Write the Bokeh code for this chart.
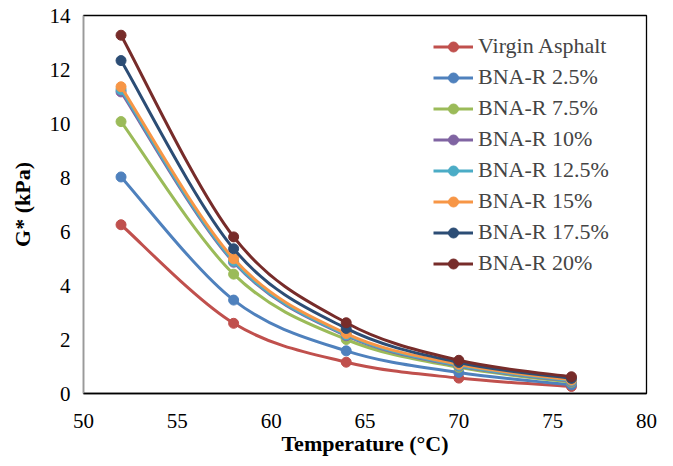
from bokeh.plotting import figure
from bokeh.models import Range1d, FixedTicker, Legend, LegendItem, ColumnDataSource
from bokeh.embed import file_html
from bokeh.resources import INLINE

temps = [52, 58, 64, 70, 76]
virgin = [6.25, 2.60, 1.16, 0.57, 0.26]
bna_2_5 = [8.02, 3.46, 1.58, 0.78, 0.32]
bna_7_5 = [10.07, 4.42, 2.00, 0.97, 0.42]
bna_10 = [11.17, 4.86, 2.14, 1.02, 0.45]
bna_12_5 = [11.25, 4.90, 2.17, 1.04, 0.47]
bna_15 = [11.36, 4.99, 2.22, 1.08, 0.50]
bna_17_5 = [12.33, 5.36, 2.41, 1.15, 0.56]
bna_20 = [13.27, 5.80, 2.62, 1.23, 0.62]

names = ["Virgin Asphalt", "BNA-R 2.5%", "BNA-R 7.5%", "BNA-R 10%",
         "BNA-R 12.5%", "BNA-R 15%", "BNA-R 17.5%", "BNA-R 20%"]
series = [virgin, bna_2_5, bna_7_5, bna_10, bna_12_5, bna_15, bna_17_5, bna_20]
colors = ["#C0504D", "#4F81BD", "#9BBB59", "#8064A2",
          "#4BACC6", "#F79646", "#2C4D75", "#772C2A"]

x_ticks = [50, 55, 60, 65, 70, 75, 80]
y_ticks = [0, 2, 4, 6, 8, 10, 12, 14]

FONT = "Liberation Serif"

p = figure(width=657, height=465, output_backend="svg", toolbar_location=None,
           x_range=Range1d(50, 80), y_range=Range1d(0, 14),
           min_border_left=83, min_border_right=11, min_border_top=15, min_border_bottom=72)
p.xgrid.visible = False
p.ygrid.visible = False
p.outline_line_color = "black"
p.outline_line_width = 1.3
p.background_fill_color = "white"
p.border_fill_color = "white"

p.xaxis.ticker = FixedTicker(ticks=x_ticks)
p.yaxis.ticker = FixedTicker(ticks=y_ticks)
for ax in (p.xaxis[0], p.yaxis[0]):
    ax.major_tick_line_color = None
    ax.minor_tick_line_color = None
    ax.major_tick_out = 0
    ax.major_tick_in = 0
    ax.minor_tick_out = 0
    ax.minor_tick_in = 0
    ax.major_label_text_font = FONT
    ax.major_label_text_font_size = "21px"
    ax.major_label_text_color = "black"
    ax.axis_label_text_font = FONT
    ax.axis_label_text_font_size = "22px"
    ax.axis_label_text_font_style = "bold"
    ax.axis_label_text_color = "black"
p.xaxis.axis_line_color = "black"
p.xaxis.axis_line_width = 1.3
p.yaxis.axis_line_color = "#9a9a9a"
p.yaxis.axis_line_width = 1.3
p.xaxis.axis_label = "Temperature (°C)"
p.yaxis.axis_label = "G* (kPa)"
p.xaxis.major_label_standoff = 20
p.yaxis.major_label_standoff = 13
p.xaxis.axis_label_standoff = 0
p.yaxis.axis_label_standoff = 12


def bezier_segments(xs, ys, k=1.0 / 6.0):
    n = len(xs)
    d = dict(x0=[], y0=[], x1=[], y1=[], cx0=[], cy0=[], cx1=[], cy1=[])
    for i in range(n - 1):
        im1 = max(i - 1, 0)
        ip2 = min(i + 2, n - 1)
        d["x0"].append(xs[i]); d["y0"].append(ys[i])
        d["x1"].append(xs[i + 1]); d["y1"].append(ys[i + 1])
        d["cx0"].append(xs[i] + (xs[i + 1] - xs[im1]) * k)
        d["cy0"].append(ys[i] + (ys[i + 1] - ys[im1]) * k)
        d["cx1"].append(xs[i + 1] - (xs[ip2] - xs[i]) * k)
        d["cy1"].append(ys[i + 1] - (ys[ip2] - ys[i]) * k)
    return d


items = []
for name, vals, col in zip(names, series, colors):
    src = ColumnDataSource(bezier_segments(temps, vals))
    rb = p.bezier(x0="x0", y0="y0", x1="x1", y1="y1", cx0="cx0", cy0="cy0",
                  cx1="cx1", cy1="cy1", source=src, line_color=col, line_width=3)
    rs = p.scatter(temps, vals, size=10, marker="circle", fill_color=col, line_color=col)
    items.append(LegendItem(label=name, renderers=[rb, rs]))

legend = Legend(items=items, location=(350, 117), padding=0, margin=0,
                border_line_color=None, background_fill_alpha=0,
                label_text_font=FONT, label_text_font_size="22px",
                glyph_width=40, glyph_height=25, label_height=25, spacing=5,
                label_standoff=5)
p.add_layout(legend, "center")

open("out.html", "w").write(file_html(p, INLINE))
